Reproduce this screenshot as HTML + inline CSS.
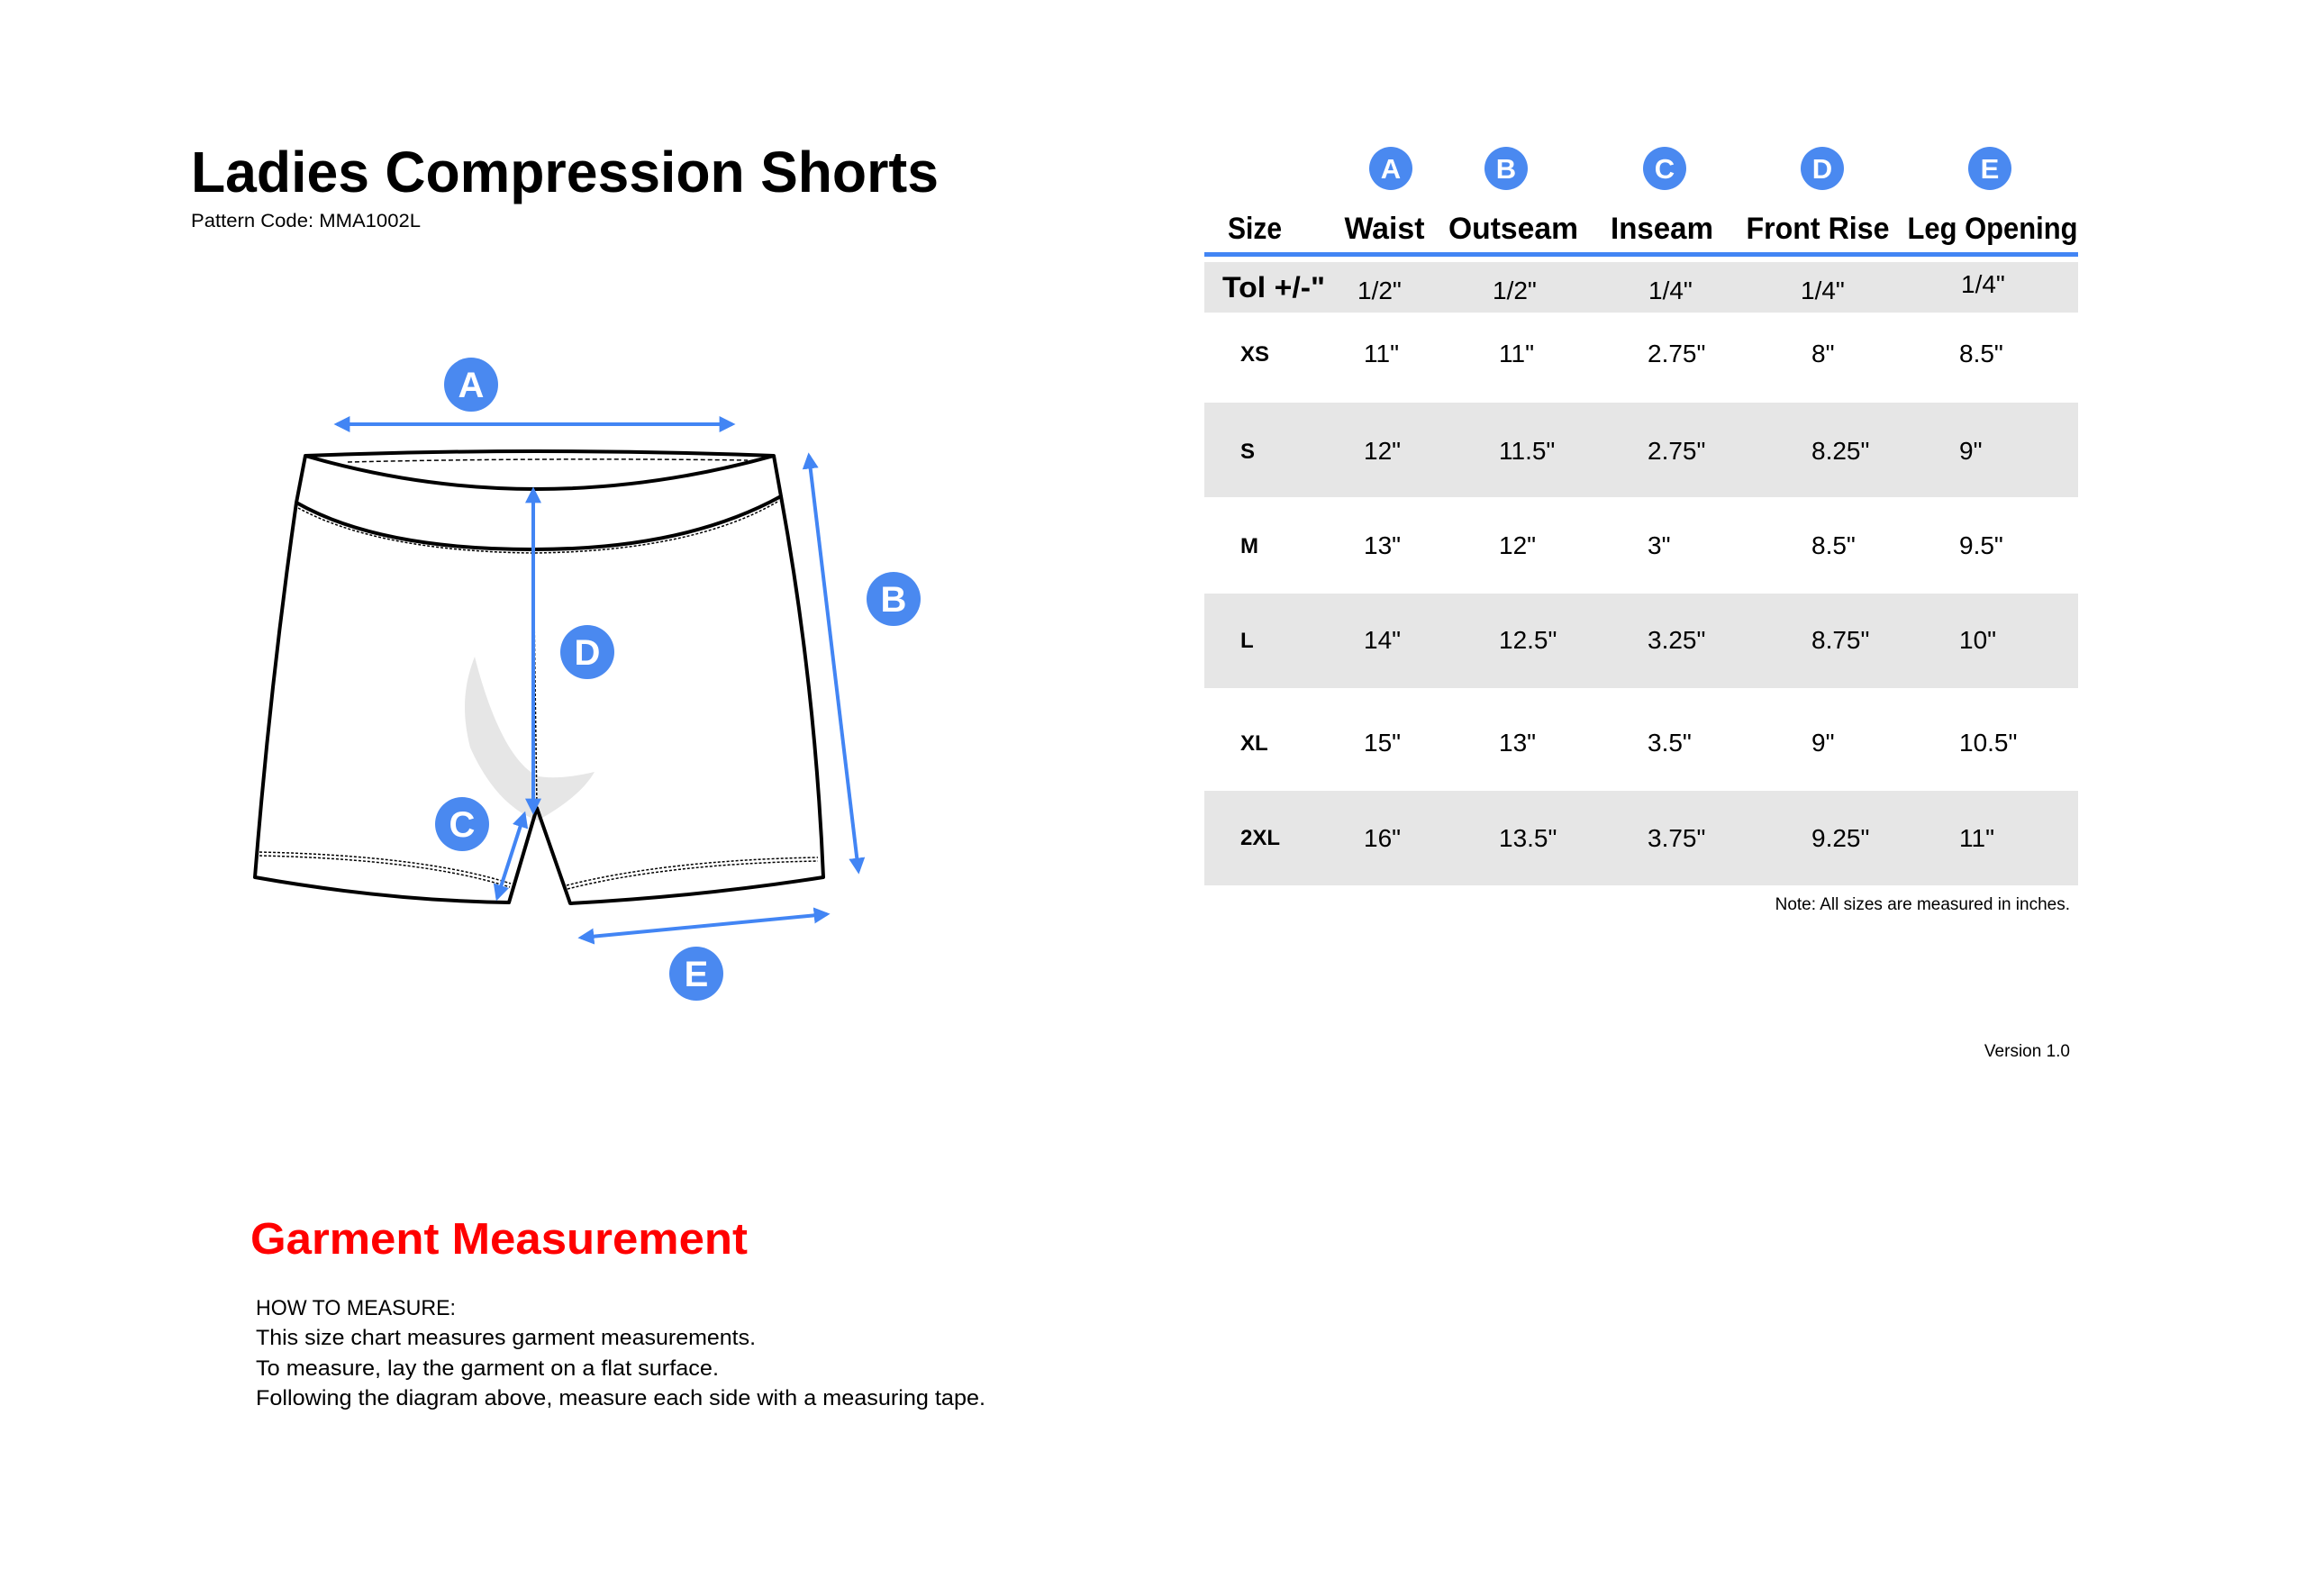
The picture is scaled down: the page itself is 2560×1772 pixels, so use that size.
<!DOCTYPE html>
<html><head><meta charset="utf-8"><style>
html,body{margin:0;padding:0;background:#fff}
svg{display:block}
text{font-family:"Liberation Sans",sans-serif}
</style></head><body>
<svg width="2560" height="1772" viewBox="0 0 2560 1772" xmlns="http://www.w3.org/2000/svg">
<defs>
<marker id="ah" viewBox="0 0 10 10" refX="8" refY="5" markerWidth="4.5" markerHeight="4.5" orient="auto-start-reverse">
<path d="M0,0 L10,5 L0,10 z" fill="#4285f4"/></marker>
</defs>
<rect width="2560" height="1772" fill="#fff"/>
<text x="212" y="213" font-size="64" font-weight="bold" textLength="830" lengthAdjust="spacingAndGlyphs">Ladies Compression Shorts</text>
<text x="212" y="252" font-size="21" textLength="255" lengthAdjust="spacingAndGlyphs">Pattern Code: MMA1002L</text>

<path d="M527,729 C515,760 512,790 522,830 C540,870 565,900 597,911 C625,895 648,878 660,857 C640,862 615,865 598,862 C570,850 545,800 527,729 Z" fill="#e6e6e6"/>
<g fill="none" stroke="#000" stroke-linejoin="round">
<path d="M339,506 Q592,496 859,506 L867,551 Q760,610 592,610 Q420,610 329,558 Z" stroke-width="4"/>
<path d="M339,506 Q592,580 859,506" stroke-width="4"/>
<path d="M329,558 Q300,760 283,974 Q430,1000 565,1002 L596,897 L633,1003 Q780,995 914,974 Q905,760 867,551" stroke-width="4"/>
<path d="M592,610 L596,897" stroke-width="1.5" stroke-dasharray="3,2"/>
<path d="M386,513 Q600,508 830,511" stroke-width="1.5" stroke-dasharray="5,3"/>
<path d="M331,564 Q420,612 592,614 Q770,612 865,556" stroke-width="1.5" stroke-dasharray="3,2"/>
<path d="M288,946 Q470,950 567,981" stroke-width="1.5" stroke-dasharray="3,2"/>
<path d="M288,950 Q470,954 566,985" stroke-width="1.5" stroke-dasharray="3,2"/>
<path d="M629,983 Q740,955 908,952" stroke-width="1.5" stroke-dasharray="3,2"/>
<path d="M630,987 Q740,959 908,956" stroke-width="1.5" stroke-dasharray="3,2"/>
</g>
<g stroke="#4285f4" stroke-width="4" marker-start="url(#ah)" marker-end="url(#ah)">
<line x1="374" y1="471" x2="813" y2="471"/>
<line x1="898" y1="506" x2="953" y2="967"/>
<line x1="592" y1="544" x2="592" y2="901"/>
<line x1="582" y1="904" x2="552" y2="997"/>
<line x1="645" y1="1041" x2="918" y2="1015"/>
</g>
<g fill="#4a89f0">
<circle cx="523" cy="427" r="30"/><circle cx="992" cy="665" r="30"/><circle cx="652" cy="724" r="30"/><circle cx="513" cy="915" r="30"/><circle cx="773" cy="1081" r="30"/>
</g>
<g fill="#fff" font-size="40" font-weight="bold" text-anchor="middle">
<text x="523" y="441">A</text><text x="992" y="679">B</text><text x="652" y="738">D</text><text x="513" y="929">C</text><text x="773" y="1095">E</text>
</g>

<g fill="#e6e6e6">
<rect x="1337" y="291" width="970" height="56"/>
<rect x="1337" y="447" width="970" height="105"/>
<rect x="1337" y="659" width="970" height="105"/>
<rect x="1337" y="878" width="970" height="105"/>
</g>
<rect x="1337" y="280" width="970" height="5" fill="#4285f4"/>
<g fill="#4a89f0">
<circle cx="1544" cy="187" r="24"/><circle cx="1672" cy="187" r="24"/><circle cx="1848" cy="187" r="24"/><circle cx="2023" cy="187" r="24"/><circle cx="2209" cy="187" r="24"/>
</g>
<g fill="#fff" font-size="31" font-weight="bold" text-anchor="middle">
<text x="1544" y="198">A</text><text x="1672" y="198">B</text><text x="1848" y="198">C</text><text x="2023" y="198">D</text><text x="2209" y="198">E</text>
</g>
<g font-size="34" font-weight="bold" text-anchor="middle">
<text x="1393" y="265" textLength="60" lengthAdjust="spacingAndGlyphs">Size</text>
<text x="1537" y="265" textLength="89" lengthAdjust="spacingAndGlyphs">Waist</text>
<text x="1680" y="265" textLength="144" lengthAdjust="spacingAndGlyphs">Outseam</text>
<text x="1845" y="265" textLength="114" lengthAdjust="spacingAndGlyphs">Inseam</text>
<text x="2018" y="265" textLength="159" lengthAdjust="spacingAndGlyphs">Front Rise</text>
<text x="2212" y="265" textLength="189" lengthAdjust="spacingAndGlyphs">Leg Opening</text>
</g>
<text x="1357" y="330" font-size="32" font-weight="bold" textLength="114" lengthAdjust="spacingAndGlyphs">Tol +/-"</text>
<g font-size="28">
<text x="1507" y="332">1/2"</text><text x="1657" y="332">1/2"</text><text x="1830" y="332">1/4"</text><text x="1999" y="332">1/4"</text><text x="2177" y="325">1/4"</text>
</g>
<g font-size="24" font-weight="bold">
<text x="1377" y="401">XS</text><text x="1377" y="509">S</text><text x="1377" y="614">M</text><text x="1377" y="719">L</text><text x="1377" y="833">XL</text><text x="1377" y="938">2XL</text>
</g>
<g font-size="28">
<text x="1514" y="402">11"</text><text x="1664" y="402">11"</text><text x="1829" y="402">2.75"</text><text x="2011" y="402">8"</text><text x="2175" y="402">8.5"</text>
<text x="1514" y="510">12"</text><text x="1664" y="510">11.5"</text><text x="1829" y="510">2.75"</text><text x="2011" y="510">8.25"</text><text x="2175" y="510">9"</text>
<text x="1514" y="615">13"</text><text x="1664" y="615">12"</text><text x="1829" y="615">3"</text><text x="2011" y="615">8.5"</text><text x="2175" y="615">9.5"</text>
<text x="1514" y="720">14"</text><text x="1664" y="720">12.5"</text><text x="1829" y="720">3.25"</text><text x="2011" y="720">8.75"</text><text x="2175" y="720">10"</text>
<text x="1514" y="834">15"</text><text x="1664" y="834">13"</text><text x="1829" y="834">3.5"</text><text x="2011" y="834">9"</text><text x="2175" y="834">10.5"</text>
<text x="1514" y="940">16"</text><text x="1664" y="940">13.5"</text><text x="1829" y="940">3.75"</text><text x="2011" y="940">9.25"</text><text x="2175" y="940">11"</text>
</g>
<text x="2298" y="1010" font-size="19" text-anchor="end">Note: All sizes are measured in inches.</text>
<text x="2298" y="1173" font-size="19" text-anchor="end">Version 1.0</text>

<text x="278" y="1392" font-size="49" font-weight="bold" fill="#ff0000" textLength="552" lengthAdjust="spacingAndGlyphs">Garment Measurement</text>
<g font-size="24">
<text x="284" y="1460" textLength="222" lengthAdjust="spacingAndGlyphs">HOW TO MEASURE:</text>
<text x="284" y="1493" textLength="555" lengthAdjust="spacingAndGlyphs">This size chart measures garment measurements.</text>
<text x="284" y="1527" textLength="514" lengthAdjust="spacingAndGlyphs">To measure, lay the garment on a flat surface.</text>
<text x="284" y="1560" textLength="810" lengthAdjust="spacingAndGlyphs">Following the diagram above, measure each side with a measuring tape.</text>
</g>
</svg>
</body></html>
